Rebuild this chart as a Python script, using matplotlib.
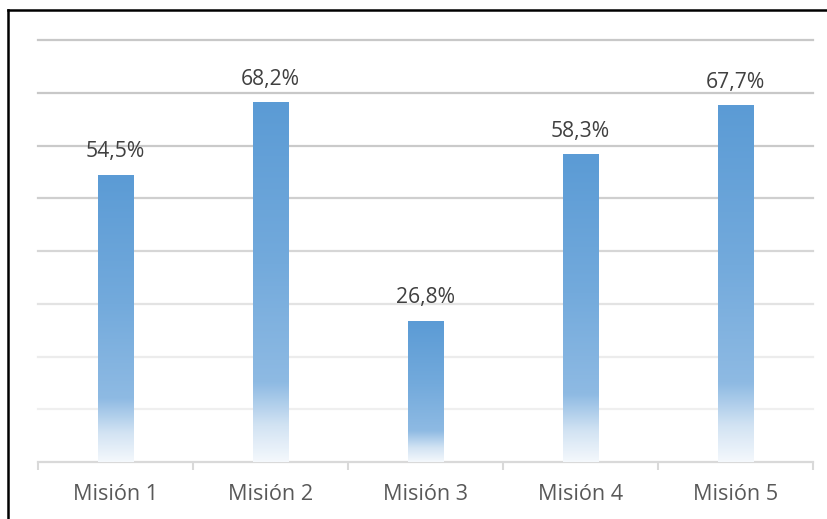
import numpy as np
import matplotlib
matplotlib.use("Agg")
import matplotlib.pyplot as plt
from matplotlib.colors import LinearSegmentedColormap
from matplotlib.lines import Line2D

categories = ["Misión 1", "Misión 2", "Misión 3", "Misión 4", "Misión 5"]
values = [54.5, 68.2, 26.8, 58.3, 67.7]
labels = ["54,5%", "68,2%", "26,8%", "58,3%", "67,7%"]
grid_levels = [10, 20, 30, 40, 50, 60, 70, 80]

plt.rcParams['font.family'] = ['Open Sans', 'DejaVu Sans']

fig = plt.figure(figsize=(8.27, 5.19), dpi=100)
ax = fig.add_axes([38/827, 1-462/519, (813-38)/827, (462-40)/519])

x = np.arange(len(categories))
bars = ax.bar(x, values, width=0.226, color='none', edgecolor='none', zorder=3)

cmap = LinearSegmentedColormap.from_list(
    "grad", [(0.0, "#5B9BD5"), (0.45, "#73AADC"), (0.78, "#8EBAE3"), (0.9, "#D2E3F3"), (1.0, "#F4F8FC")])
grad = np.linspace(0, 1, 256).reshape(-1, 1)
for b in bars:
    x0, w, h = b.get_x(), b.get_width(), b.get_height()
    im = ax.imshow(grad, cmap=cmap, extent=[x0, x0 + w, 0, h], origin='upper',
                   aspect='auto', zorder=3, interpolation='bilinear')
    im.set_clip_path(b)

grid_colors = ["#efefef", "#ececec", "#e3e3e3", "#d6d6d6", "#cfcfcf", "#cacaca", "#c8c8c8", "#c8c8c8"]
for lvl, c in zip(grid_levels, grid_colors):
    ax.axhline(lvl, color=c, lw=1.6, zorder=1, clip_on=False)

for xi, v, lab in zip(x, values, labels):
    ax.annotate(lab, (xi, v), xytext=(0, 12.5), textcoords='offset points',
                ha='center', va='baseline', fontsize=15.2, color='#404040')

ax.set_xlim(-0.5, len(categories) - 0.5)
ax.set_ylim(0, 80)
ax.set_xticks(x)
ax.set_xticklabels(categories, fontsize=15.6, color='#595959')
ax.set_xticks(np.arange(-0.5, len(categories)), minor=True)
ax.tick_params(axis='x', which='major', length=0, pad=16)
ax.tick_params(axis='x', which='minor', length=6, width=1.5, color='#d9d9d9')
ax.set_yticks([])
for s in ['top', 'right', 'left']:
    ax.spines[s].set_visible(False)
ax.spines['bottom'].set_color('#d9d9d9')
ax.spines['bottom'].set_linewidth(1.6)
ax.patch.set_alpha(0)

# outer frame (left and top edges)
fig.add_artist(Line2D([8/827, 8/827], [0, 1-10/519], color='black', lw=1.8, transform=fig.transFigure))
fig.add_artist(Line2D([8/827, 1], [1-10/519, 1-10/519], color='black', lw=1.8, transform=fig.transFigure))

fig.savefig("out.png", dpi=100)
